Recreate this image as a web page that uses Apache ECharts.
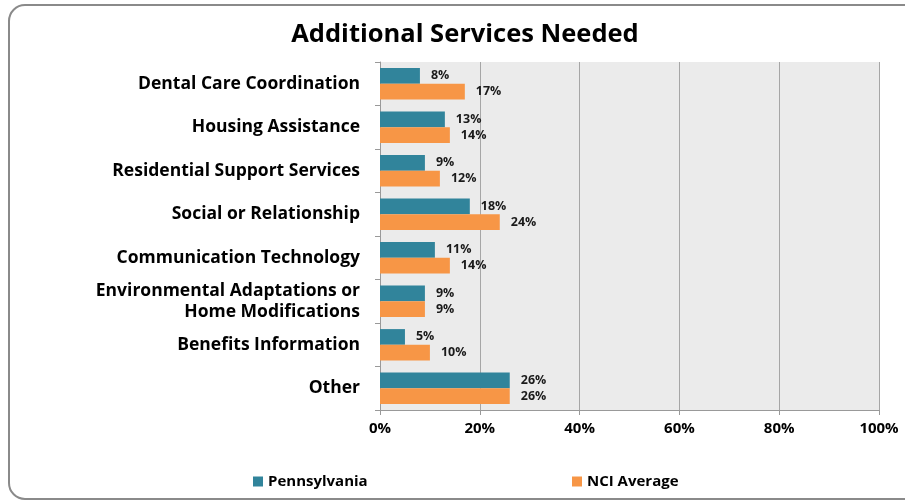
<!DOCTYPE html>
<html><head><meta charset="utf-8">
<script src="https://cdn.jsdelivr.net/npm/echarts@6/dist/echarts.min.js"></script>
<style>html,body{margin:0;padding:0;background:#fff}#c{width:905px;height:502px}</style>
</head><body><div id="c"></div>
<script>
const categories = ["Dental Care Coordination","Housing Assistance","Residential Support Services","Social or Relationship","Communication Technology","Environmental Adaptations or\nHome Modifications","Benefits Information","Other"];
const pennsylvania = [8,13,9,18,11,9,5,26];
const nciAverage = [17,14,12,24,14,9,10,26];
const xTicks = [0,20,40,60,80,100];

const chart = echarts.init(document.getElementById('c'));
const font = 'Open Sans';
const lbl = {show:true, position:'right', distance:11, formatter: p => p.value + '%', fontFamily:font, fontWeight:'bold', fontSize:12.5, color:'#1a1a1a'};
const legText = {fontFamily:font, fontWeight:'bold', fontSize:15, color:'#000'};
chart.setOption({
  animation:false,
  title:{text:'Additional Services Needed', left:460, top:17, textAlign:'center', textStyle:{fontFamily:font, fontWeight:'bold', fontSize:25.5, color:'#000'}},
  graphic:[{type:'rect', shape:{x:9, y:5, width:910, height:494, r:16}, style:{fill:'none', stroke:'#8a8a8a', lineWidth:2}}],
  legend:[
    {left:248, top:469, itemWidth:10, itemHeight:10, icon:'rect', textStyle:legText, data:['Pennsylvania']},
    {left:567, top:469, itemWidth:10, itemHeight:10, icon:'rect', textStyle:legText, data:['NCI Average']}
  ],
  grid:{left:380, right:26, top:62, bottom:92, show:true, backgroundColor:'#EBEBEB', borderWidth:0},
  xAxis:{type:'value', min:0, max:100, interval:20,
    axisLine:{show:true, lineStyle:{color:'#999'}}, axisTick:{show:true, length:5, lineStyle:{color:'#999'}},
    splitLine:{show:true, lineStyle:{color:'#a6a6a6', width:1}},
    axisLabel:{formatter: v => xTicks.includes(v) ? v + '%' : '', fontFamily:font, fontWeight:'bold', fontSize:15, color:'#000', margin:11}},
  yAxis:{type:'category', inverse:true, data:categories,
    axisLine:{show:true, lineStyle:{color:'#999'}}, axisTick:{show:true, length:5, lineStyle:{color:'#999'}},
    axisLabel:{fontFamily:font, fontWeight:'bold', fontSize:17.5, color:'#000', margin:20, lineHeight:21, align:'right'}},
  series:[
    {name:'Pennsylvania', type:'bar', data:pennsylvania, barGap:'0%', barCategoryGap:'28%', itemStyle:{color:'#31849B'}, label:lbl},
    {name:'NCI Average', type:'bar', data:nciAverage, itemStyle:{color:'#F79646'}, label:lbl}
  ]
});
</script></body></html>
